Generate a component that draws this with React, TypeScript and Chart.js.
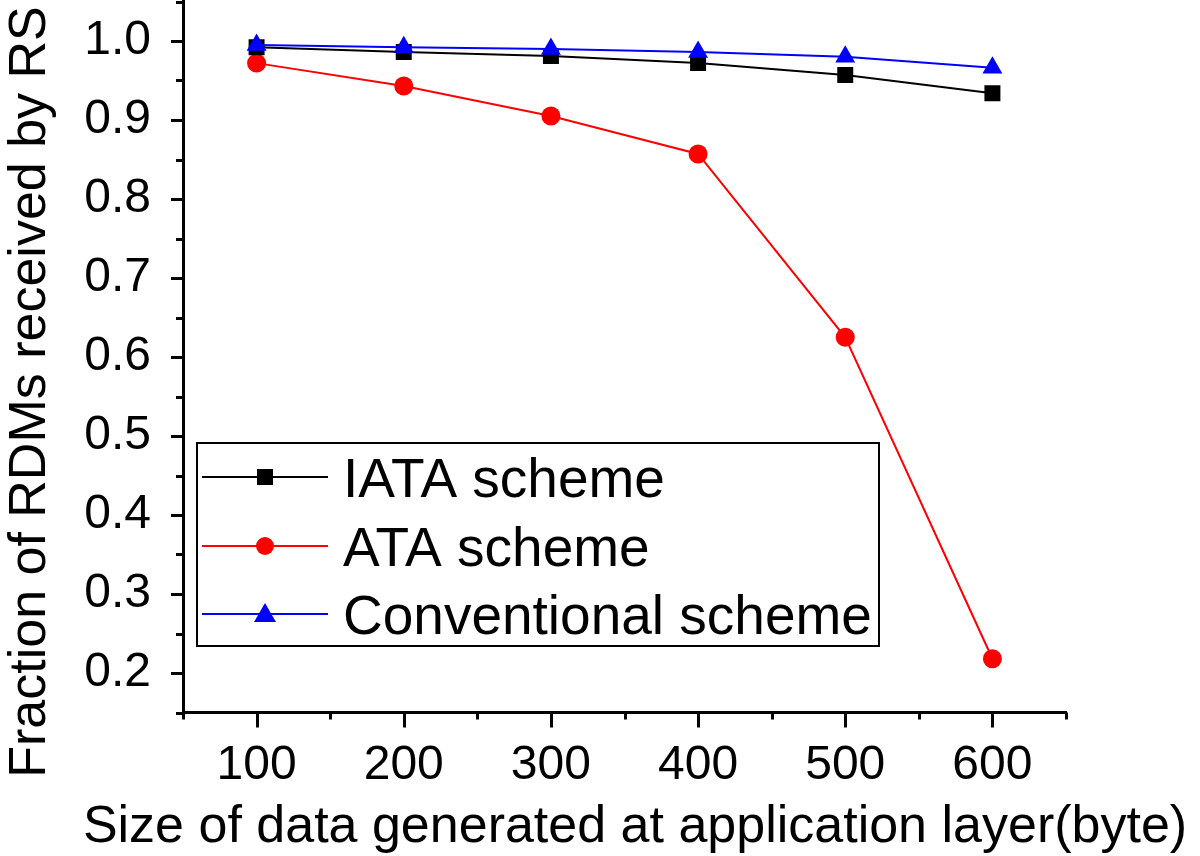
import React, { useEffect, useRef } from "react";
import { Chart, registerables } from "chart.js";

Chart.register(...registerables);

const sizes = [100, 200, 300, 400, 500, 600];
const iataValues = [0.992, 0.986, 0.981, 0.972, 0.957, 0.934];
const ataValues = [0.972, 0.943, 0.905, 0.857, 0.625, 0.218];
const convValues = [0.995, 0.992, 0.99, 0.986, 0.98, 0.966];
const seriesNames = ["IATA scheme", "ATA scheme", "Conventional scheme"];
const xTitle = "Size of data generated at application layer(byte)";
const yTitle = "Fraction of RDMs received by RS";

const FONT = "'Liberation Sans', Arial, sans-serif";

const toPoints = (vals: number[]) => sizes.map((x, i) => ({ x, y: vals[i] }));

const zeroPad = (s: any) => {
  s.paddingTop = 0;
  s.paddingBottom = 0;
  s.paddingLeft = 0;
  s.paddingRight = 0;
};

const decorPlugin = {
  id: "decor",
  afterDraw(chart: any) {
    const ctx = chart.ctx;
    const xs = chart.scales.x;
    const ys = chart.scales.y;
    const area = chart.chartArea;
    ctx.save();
    ctx.strokeStyle = "#000";
    ctx.lineWidth = 3;
    // x ticks
    for (let v = 50; v <= 650; v += 50) {
      const px = Math.round(xs.getPixelForValue(v)) + 0.5;
      const len = v % 100 === 0 ? 15 : 7;
      ctx.beginPath();
      ctx.moveTo(px, area.bottom);
      ctx.lineTo(px, area.bottom + len);
      ctx.stroke();
    }
    // y ticks
    for (let i = 3; i <= 21; i++) {
      const v = i * 0.05;
      const py = Math.round(ys.getPixelForValue(v)) + 0.5;
      const len = i % 2 === 0 ? 12 : 7;
      ctx.beginPath();
      ctx.moveTo(area.left, py);
      ctx.lineTo(area.left - len, py);
      ctx.stroke();
    }
    // titles
    ctx.fillStyle = "#000";
    ctx.font = `52px ${FONT}`;
    ctx.textAlign = "center";
    ctx.textBaseline = "alphabetic";
    ctx.fillText(xTitle, 635, 842);
    ctx.save();
    ctx.translate(45, 392);
    ctx.rotate(-Math.PI / 2);
    ctx.fillText(yTitle, 0, 0);
    ctx.restore();

    // legend
    const bx = 197, by = 443, bw = 682, bh = 203;
    ctx.fillStyle = "#fff";
    ctx.fillRect(bx, by, bw, bh);
    ctx.strokeStyle = "#000";
    ctx.lineWidth = 2;
    ctx.strokeRect(bx, by, bw, bh);
    const rowsY = [477, 546, 614];
    [0, 1, 2].forEach((di, r) => {
      const ds = chart.data.datasets[di];
      const y = rowsY[r];
      ctx.strokeStyle = ds.borderColor;
      ctx.lineWidth = 2;
      ctx.beginPath();
      ctx.moveTo(202, y);
      ctx.lineTo(328, y);
      ctx.stroke();
      ctx.fillStyle = ds.borderColor;
      const mx = 265;
      if (ds.pointStyle === "rect") {
        ctx.fillRect(mx - 8, y - 8, 16, 16);
      } else if (ds.pointStyle === "circle") {
        ctx.beginPath();
        ctx.arc(mx, y, 9, 0, Math.PI * 2);
        ctx.fill();
      } else {
        ctx.beginPath();
        ctx.moveTo(mx, y - 11);
        ctx.lineTo(mx + 11, y + 8);
        ctx.lineTo(mx - 11, y + 8);
        ctx.closePath();
        ctx.fill();
      }
      ctx.fillStyle = "#000";
      ctx.font = `55px ${FONT}`;
      ctx.textAlign = "left";
      ctx.fillText(ds.label, 343, y + 20);
    });
    ctx.restore();
  },
};

export default function App() {
  const ref = useRef<HTMLCanvasElement | null>(null);
  useEffect(() => {
    if (!ref.current) return;
    const chart = new Chart(ref.current, {
      type: "line",
      data: {
        datasets: [
          {
            label: seriesNames[0],
            data: toPoints(iataValues),
            borderColor: "#000000",
            backgroundColor: "#000000",
            pointStyle: "rect",
            pointRadius: 11.3,
            pointBorderWidth: 0,
            borderWidth: 2,
            order: 1,
          },
          {
            label: seriesNames[1],
            data: toPoints(ataValues),
            borderColor: "#ff0000",
            backgroundColor: "#ff0000",
            pointStyle: "circle",
            pointRadius: 9.5,
            pointBorderWidth: 0,
            borderWidth: 2,
            order: 2,
          },
          {
            label: seriesNames[2],
            data: toPoints(convValues),
            borderColor: "#0000ff",
            backgroundColor: "#0000ff",
            pointStyle: "triangle",
            pointRadius: 11.5,
            pointBorderWidth: 0,
            borderWidth: 2,
            order: 0,
          },
        ],
      },
      options: {
        responsive: false,
        animation: false,
        layout: { autoPadding: false, padding: { top: 1.5, right: 134, left: 0, bottom: 0 } },
        plugins: { legend: { display: false }, tooltip: { enabled: false } },
        scales: {
          x: {
            type: "linear",
            min: 50,
            max: 650,
            afterFit: (s: any) => {
              s.height = 143.5;
              zeroPad(s);
            },
            grid: { display: true, drawOnChartArea: false, drawTicks: false },
            border: { display: true, color: "#000", width: 3 },
            ticks: {
              stepSize: 50,
              autoSkip: false,
              maxRotation: 0,
              padding: 24,
              color: "#000",
              font: { family: FONT, size: 48 },
              callback: (v: any) => (Number(v) % 100 === 0 ? String(v) : ""),
            },
          },
          y: {
            type: "linear",
            min: 0.15,
            max: 1.05,
            afterFit: (s: any) => {
              s.width = 183;
              zeroPad(s);
            },
            grid: { display: true, drawOnChartArea: false, drawTicks: false },
            border: { display: true, color: "#000", width: 3 },
            ticks: {
              stepSize: 0.05,
              autoSkip: false,
              padding: 32,
              color: "#000",
              font: { family: FONT, size: 48 },
              callback: (v: any) => {
                const t = Number(v) * 10;
                return Math.abs(t - Math.round(t)) < 1e-6 ? Number(v).toFixed(1) : "";
              },
            },
          },
        },
      },
      plugins: [decorPlugin],
    });
    return () => chart.destroy();
  }, []);
  return (
    <div style={{ position: "fixed", left: 0, top: 0, width: 1200, height: 856, background: "#fff" }}>
      <canvas ref={ref} width={1200} height={856} />
    </div>
  );
}
